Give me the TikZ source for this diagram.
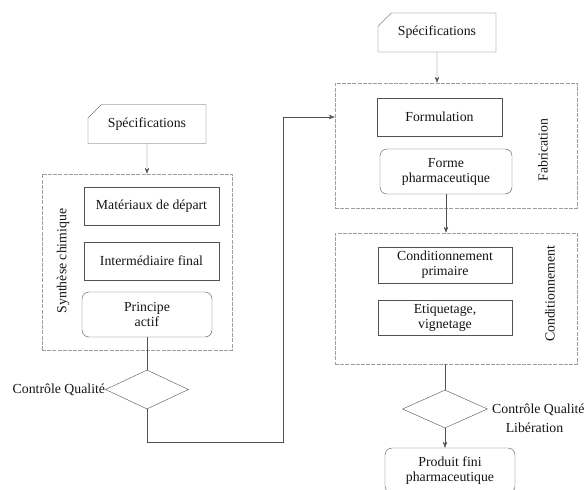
\documentclass[tikz,border=0pt]{standalone}
\usepackage{fontspec}
\setmainfont{Liberation Serif}
\usetikzlibrary{arrows.meta,shapes.geometric,shapes.misc}
\definecolor{linec}{gray}{0.32}
\definecolor{dashc}{gray}{0.62}
\definecolor{textc}{gray}{0.08}
\tikzset{
  every node/.style={font=\fontsize{13.8}{15}\selectfont, text=textc},
  stepbox/.style={draw=linec, align=center, inner sep=2pt},
  roundbox/.style={stepbox, rounded corners=7pt},
  specbox/.style={draw=linec, chamfered rectangle, chamfered rectangle corners=north west,
    chamfered rectangle xsep=22pt, chamfered rectangle ysep=7pt,
    minimum width=118pt, minimum height=39pt, inner sep=0pt},
  groupbox/.style={draw=dashc, dash pattern=on 4pt off 1.2pt, inner sep=0pt},
  qcdiamond/.style={draw=linec, diamond, inner sep=0pt},
  flow/.style={draw=linec, -{Stealth[length=6pt,width=4.5pt]}}
}
\begin{document}
\begin{tikzpicture}[x=1pt, y=-1pt]
    \useasboundingbox (0,0) rectangle (585,489);
    % Synthese chimique
    \node (spec1) [specbox] at (147,124) {Spécifications};
    \node (syn) [groupbox, minimum width=190pt, minimum height=176pt] at (137,262) {};
    \node (synlab) [rotate=90] at (63,261) {Synthèse chimique};
    \node (mat) [stepbox, minimum width=135pt, minimum height=38pt] at (151.5,206) {Matériaux de départ};
    \node (inter) [stepbox, minimum width=135pt, minimum height=38pt] at (151.5,261) {Intermédiaire final};
    \node (princ) [roundbox, minimum width=130pt, minimum height=45pt] at (147,314.5) {Principe\\actif};
    \node (cq1) [qcdiamond, minimum width=83pt, minimum height=39pt] at (147,389.5) {};
    \node (cq1lab) [anchor=east, inner sep=0pt] at (cq1.west) {Contrôle Qualité};
    \coordinate (turn) at (283,442);
    % Fabrication
    \node (spec2) [specbox] at (437,32.5) {Spécifications};
    \node (fab) [groupbox, minimum width=242pt, minimum height=125pt] at (456,145.5) {};
    \node (fablab) [rotate=90] at (543,150) {Fabrication};
    \node (form) [stepbox, minimum width=125pt, minimum height=38pt] at (439.5,117) {Formulation};
    \node (forme) [roundbox, minimum width=132pt, minimum height=45pt] at (446,171.5) {Forme\\pharmaceutique};
    % Conditionnement
    \node (cond) [groupbox, minimum width=242pt, minimum height=131pt] at (456,298.5) {};
    \node (condlab) [rotate=90] at (550,294) {Conditionnement};
    \node (cprim) [stepbox, minimum width=134pt, minimum height=36pt] at (445,265) {Conditionnement\\primaire};
    \node (etiq) [stepbox, minimum width=134pt, minimum height=35pt] at (445,317.5) {Etiquetage,\\vignetage};
    \node (cq2) [qcdiamond, minimum width=85pt, minimum height=38pt] at (445,409) {};
    \node (cq2lab) [anchor=west, inner sep=0pt] at (492,410) {Contrôle Qualité};
    \node (liblab) at (534.5,428) {Libération};
    \node (prod) [roundbox, minimum width=130pt, minimum height=45pt] at (450,470.5) {Produit fini\\pharmaceutique};
    \draw[flow] (spec1) -- (spec1 |- syn.north);
    \draw[draw=linec] (princ) -- (cq1);
    \draw[flow] (cq1.south) |- (turn) |- (fab.west |- form);
    \draw[flow] (spec2) -- (spec2 |- fab.north);
    \draw[flow] (forme.south) -- (forme.south |- cond.north);
    \draw[draw=linec] (cq2.north |- cond.south) -- (cq2.north);
    \draw[flow] (cq2.south) -- (cq2.south |- prod.north);
  \end{tikzpicture}
\end{document}
